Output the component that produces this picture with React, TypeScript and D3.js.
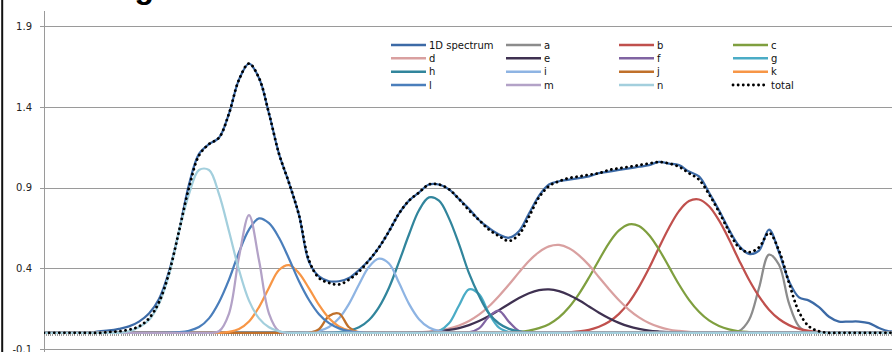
import React from "react";
import * as d3 from "d3";

// sample positions along the x axis (axis units 0..848), one every 10 units
const positions = d3.range(5, 850, 10);

const spectrum = [
  0, 0, 0, 0, 0, 0.01, 0.015, 0.025, 0.04, 0.07,
  0.12, 0.21, 0.38, 0.63, 0.92, 1.11, 1.17, 1.21, 1.36, 1.57,
  1.67, 1.58, 1.36, 1.11, 0.93, 0.73, 0.44, 0.35, 0.32, 0.32,
  0.34, 0.39, 0.45, 0.53, 0.63, 0.74, 0.82, 0.87, 0.92, 0.92,
  0.89, 0.83, 0.77, 0.7, 0.65, 0.61, 0.59, 0.63, 0.74, 0.85,
  0.92, 0.94, 0.95, 0.96, 0.97, 0.99, 1.0, 1.01, 1.02, 1.03,
  1.04, 1.06, 1.05, 1.04, 1.0, 0.97, 0.87, 0.76, 0.64, 0.54,
  0.49, 0.51, 0.64, 0.5, 0.32, 0.22, 0.2, 0.16, 0.1, 0.07,
  0.07, 0.07, 0.06, 0.03, 0.01,
];

const total = [
  0, 0, 0, 0, 0, 0, 0.005, 0.01, 0.02, 0.04,
  0.09, 0.19, 0.37, 0.63, 0.9, 1.1, 1.17, 1.21, 1.36, 1.57,
  1.67, 1.58, 1.36, 1.11, 0.93, 0.73, 0.45, 0.34, 0.31, 0.3,
  0.33, 0.38, 0.45, 0.53, 0.63, 0.74, 0.82, 0.87, 0.92, 0.92,
  0.89, 0.83, 0.76, 0.7, 0.64, 0.6, 0.57, 0.61, 0.72, 0.84,
  0.91, 0.94, 0.96, 0.97, 0.98, 0.99, 1.01, 1.02, 1.03, 1.04,
  1.05, 1.06, 1.05, 1.03, 0.99, 0.95, 0.86, 0.75, 0.63, 0.53,
  0.5, 0.53, 0.62, 0.51, 0.31, 0.13, 0.04, 0.01, 0, 0,
  0, 0, 0, 0, 0,
];

// fitted components: first sample index, then the non-zero values (zero elsewhere)
const compA = { start: 68, values: [0.001, 0.011, 0.08, 0.278, 0.485, 0.422, 0.183, 0.04, 0.004] };
const compB = {
  start: 52,
  values: [0.004, 0.009, 0.019, 0.038, 0.069, 0.118, 0.189, 0.285, 0.4, 0.529, 0.652, 0.755, 0.817, 0.827,
    0.785, 0.697, 0.58, 0.451, 0.329, 0.226, 0.144, 0.086, 0.048, 0.025, 0.012, 0.006, 0.003, 0.001],
};
const compC = {
  start: 46,
  values: [0.003, 0.006, 0.014, 0.029, 0.054, 0.096, 0.159, 0.242, 0.343, 0.452, 0.557, 0.635, 0.673,
    0.663, 0.607, 0.517, 0.409, 0.3, 0.205, 0.131, 0.077, 0.043, 0.022, 0.01, 0.005, 0.002],
};
const compD = {
  start: 37,
  values: [0.004, 0.008, 0.015, 0.027, 0.046, 0.074, 0.113, 0.165, 0.229, 0.3, 0.375, 0.446, 0.501, 0.536,
    0.545, 0.525, 0.481, 0.42, 0.345, 0.271, 0.202, 0.143, 0.096, 0.061, 0.037, 0.021, 0.012, 0.006, 0.003],
};
const compE = {
  start: 36,
  values: [0.001, 0.003, 0.005, 0.01, 0.018, 0.03, 0.048, 0.073, 0.104, 0.141, 0.179, 0.216, 0.246, 0.265,
    0.27, 0.259, 0.235, 0.202, 0.164, 0.125, 0.091, 0.062, 0.04, 0.025, 0.014, 0.008, 0.004, 0.002],
};
const compF = { start: 42, values: [0.003, 0.028, 0.1, 0.137, 0.068, 0.012, 0.001] };
const compG = { start: 38, values: [0.001, 0.011, 0.059, 0.17, 0.27, 0.24, 0.12, 0.032, 0.005] };
const compH = {
  start: 29,
  values: [0.005, 0.014, 0.035, 0.08, 0.16, 0.28, 0.44, 0.61, 0.76, 0.84, 0.82, 0.71, 0.55, 0.37, 0.23,
    0.12, 0.058, 0.025, 0.009, 0.003],
};
const compI = {
  start: 26,
  values: [0.003, 0.012, 0.036, 0.09, 0.18, 0.3, 0.41, 0.46, 0.43, 0.31, 0.18, 0.085, 0.033, 0.011, 0.003],
};
const compJ = { start: 26, values: [0.001, 0.023, 0.105, 0.12, 0.035, 0.002] };
const compK = {
  start: 18,
  values: [0.006, 0.024, 0.07, 0.16, 0.28, 0.39, 0.42, 0.37, 0.276, 0.173, 0.091, 0.04, 0.015, 0.005],
};
const compL = {
  start: 12,
  values: [0.001, 0.004, 0.013, 0.036, 0.09, 0.19, 0.33, 0.5, 0.64, 0.71, 0.68, 0.59, 0.46, 0.32, 0.204,
    0.116, 0.06, 0.028, 0.011, 0.004],
};
const compM = { start: 17, values: [0.01, 0.12, 0.47, 0.73, 0.45, 0.12, 0.01] };
const compN = {
  start: 8,
  values: [0.01, 0.035, 0.08, 0.18, 0.36, 0.63, 0.86, 1.01, 1.01, 0.86, 0.63, 0.39, 0.2, 0.09, 0.035, 0.01],
};

const seriesNames = ["1D spectrum", "a", "b", "c", "d", "e", "f", "g", "h", "i", "j", "k", "l", "m", "n", "total"];
const seriesColors = [
  "#3C6AA6", "#8C8C8C", "#C0504D", "#7F9F3F", "#D9A0A0", "#3F3151", "#8064A2", "#4BACC6",
  "#31859C", "#8EB4E3", "#C0702A", "#F79646", "#4A7EBB", "#B3A2C7", "#A3CFDD", "#000000",
];
const yTicks = [-0.1, 0.4, 0.9, 1.4, 1.9];

function expand(comp: { start: number; values: number[] }) {
  return positions.map((_, i) => {
    const j = i - comp.start;
    return j >= 0 && j < comp.values.length ? comp.values[j] : 0;
  });
}

const allSeries = [
  spectrum,
  ...[compA, compB, compC, compD, compE, compF, compG, compH, compI, compJ, compK, compL, compM, compN].map(expand),
  total,
];

export default function App() {
  const W = 892;
  const H = 352;
  const left = 44;
  const right = 892;

  const x = d3.scaleLinear().domain([0, 848]).range([left, right]);
  const y = d3.scaleLinear().domain([-0.1, 2.0]).range([349, 10.3]);

  const line = d3
    .line<[number, number]>()
    .x((d) => x(d[0]))
    .y((d) => y(d[1]))
    .curve(d3.curveCatmullRom.alpha(0.5));

  const pts = (vals: number[]): [number, number][] => [
    [0, vals[0]],
    ...positions.map((p, i) => [p, vals[i]] as [number, number]),
    [848, vals[vals.length - 1]],
  ];

  const xTicks = d3.range(0, 848.1, 2.2);
  const font = "'DejaVu Sans', Verdana, sans-serif";

  const legX = [391, 506, 619, 733];
  const legY = [45, 58.3, 71.7, 85];
  const dots = "0.1 5";

  return (
    <svg width={W} height={H} style={{ position: "absolute", left: 0, top: 0 }} fontFamily={font}>
      <rect width={W} height={H} fill="#fff" />
      <defs>
        <clipPath id="plot">
          <rect x={left} y={0} width={right - left} height={H} />
        </clipPath>
      </defs>
      {/* chart frame edge and cut-off title */}
      <line x1={2.2} x2={2.2} y1={0} y2={H} stroke="#111" strokeWidth={2} />
      <text x={154} y={-1.7} textAnchor="end" fontSize={32} fontWeight="bold" fontFamily="'Liberation Sans', Arial, sans-serif">
        Fitting
      </text>

      {/* gridlines and y axis */}
      {yTicks.map((t) => (
        <g key={t}>
          <line x1={left} x2={right} y1={Math.round(y(t)) + 0.5} y2={Math.round(y(t)) + 0.5} stroke="#9a9a9a" />
          <line x1={left - 4} x2={left} y1={Math.round(y(t)) + 0.5} y2={Math.round(y(t)) + 0.5} stroke="#9a9a9a" />
          <text x={32} y={y(t) + 3.5} textAnchor="end" fontSize={10} fill="#222">
            {t.toFixed(1)}
          </text>
        </g>
      ))}
      <line x1={left + 0.5} x2={left + 0.5} y1={11} y2={H} stroke="#9a9a9a" />

      {/* category axis at zero */}
      <line x1={left} x2={right} y1={Math.round(y(0)) + 0.5} y2={Math.round(y(0)) + 0.5} stroke="#9a9a9a" />
      <g stroke="#9a9a9a" shapeRendering="crispEdges">
        {xTicks.map((t) => (
          <line key={t} x1={x(t)} x2={x(t)} y1={y(0)} y2={y(0) + 3} />
        ))}
      </g>

      {/* series */}
      <g clipPath="url(#plot)" fill="none">
        {allSeries.map((vals, i) => (
          <path
            key={seriesNames[i]}
            d={line(pts(vals)) ?? ""}
            stroke={seriesColors[i]}
            strokeWidth={i === 15 ? 2.8 : 2.25}
            strokeDasharray={i === 15 ? dots : undefined}
            strokeLinecap={i === 15 ? "round" : "butt"}
            strokeLinejoin="round"
          />
        ))}
      </g>

      {/* legend */}
      {seriesNames.map((name, i) => {
        const cx = legX[i % 4];
        const cy = legY[Math.floor(i / 4)];
        const isTotal = i === 15;
        return (
          <g key={name}>
            <line
              x1={cx}
              x2={cx + 35}
              y1={cy}
              y2={cy}
              stroke={seriesColors[i]}
              strokeWidth={isTotal ? 2.8 : 2.5}
              strokeDasharray={isTotal ? dots : undefined}
              strokeLinecap={isTotal ? "round" : "butt"}
            />
            <text x={cx + 38} y={cy + 3.5} fontSize={10} fill="#111">
              {name}
            </text>
          </g>
        );
      })}
    </svg>
  );
}
